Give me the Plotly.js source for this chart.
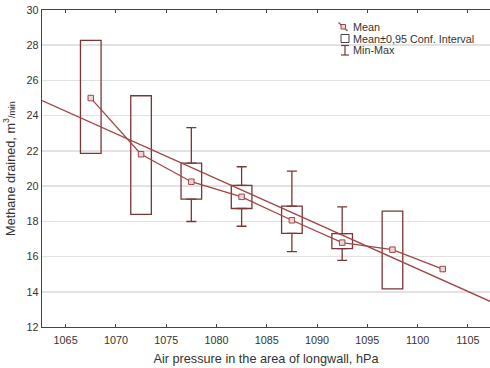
<!DOCTYPE html>
<html>
<head>
<meta charset="utf-8">
<script src="https://cdn.plot.ly/plotly-3.0.1.min.js"></script>
<style>html,body{margin:0;padding:0;background:#fff;}</style>
</head>
<body>
<div id="chart" style="width:490px;height:368px;"></div>
<script>
// Pressure class centres (hPa)
var pressure = [1067.5, 1072.5, 1077.5, 1082.5, 1087.5, 1092.5, 1097.5, 1102.5];
// Mean methane drained (m3/min)
var meanVals = [25.0, 21.81, 20.25, 19.39, 18.06, 16.79, 16.39, 15.29];
// Mean ± 0.95 confidence interval
var ciUpper = [28.28, 25.13, 21.31, 20.04, 18.86, 17.30, 18.58, null];
var ciLower = [21.86, 18.40, 19.26, 18.73, 17.32, 16.45, 14.17, null];
// Min-Max
var minVals = [null, null, 17.99, 17.72, 16.28, 15.78, null, null];
var maxVals = [null, null, 23.32, 21.10, 20.85, 18.82, null, null];
// Regression line (read at the plot edges)
var regX = [1062.65, 1107.2];
var regY = [24.86, 13.46];
// Axis ticks
var xTicks = [1065, 1070, 1075, 1080, 1085, 1090, 1095, 1100, 1105];
var legendText = ['Mean', 'Mean±0,95 Conf. Interval', 'Min-Max'];

var lineCol = '#a04545';
var boxCol = '#7a3636';

var boxX = [], boxBase = [], boxH = [];
pressure.forEach(function (p, i) {
  if (ciUpper[i] !== null) { boxX.push(p); boxBase.push(ciLower[i]); boxH.push(ciUpper[i] - ciLower[i]); }
});
var upX = [], upY = [], upLen = [], loX = [], loY = [], loLen = [];
pressure.forEach(function (p, i) {
  if (maxVals[i] !== null) { upX.push(p); upY.push(ciUpper[i]); upLen.push(maxVals[i] - ciUpper[i]); }
  if (minVals[i] !== null) { loX.push(p); loY.push(ciLower[i]); loLen.push(ciLower[i] - minVals[i]); }
});

var traces = [
  {type: 'bar', x: boxX, y: boxH, base: boxBase, width: 2.05,
   marker: {color: 'rgba(0,0,0,0)', line: {color: boxCol, width: 1.3}}, showlegend: false, hoverinfo: 'skip'},
  {type: 'scatter', mode: 'markers', x: upX, y: upY, marker: {size: 1, opacity: 0},
   error_y: {type: 'data', symmetric: false, array: upLen, arrayminus: upLen.map(function(){return 0;}), width: 5, thickness: 1.3, color: boxCol},
   showlegend: false, hoverinfo: 'skip'},
  {type: 'scatter', mode: 'markers', x: loX, y: loY, marker: {size: 1, opacity: 0},
   error_y: {type: 'data', symmetric: false, array: loLen.map(function(){return 0;}), arrayminus: loLen, width: 5, thickness: 1.3, color: boxCol},
   showlegend: false, hoverinfo: 'skip'},
  {type: 'scatter', mode: 'lines', x: regX, y: regY, line: {color: lineCol, width: 1.3}, showlegend: false},
  {type: 'scatter', mode: 'lines+markers', x: pressure, y: meanVals, line: {color: lineCol, width: 1.3},
   marker: {symbol: 'square', size: 5.5, color: '#ead6d6', line: {color: lineCol, width: 1}}, showlegend: false}
];

var fontFam = '"Liberation Sans", Arial, sans-serif';
var legX0 = 42, legW = 448, legY0 = 10, legH = 317;
function px(x) { return (x - legX0) / legW; }
function py(y) { return 1 - (y - legY0) / legH; }

var shapes = [
  // Mean symbol
  {type: 'line', xref: 'paper', yref: 'paper', x0: px(338.5), x1: px(347.5), y0: py(22.5), y1: py(31), line: {color: lineCol, width: 1.2}},
  {type: 'rect', xref: 'paper', yref: 'paper', x0: px(341), x1: px(345.5), y0: py(24.5), y1: py(29), line: {color: lineCol, width: 1}, fillcolor: '#ead6d6'},
  // CI symbol
  {type: 'rect', xref: 'paper', yref: 'paper', x0: px(341), x1: px(349), y0: py(34.5), y1: py(42.5), line: {color: '#444', width: 1}, fillcolor: 'rgba(0,0,0,0)'},
  // Min-Max symbol
  {type: 'line', xref: 'paper', yref: 'paper', x0: px(345), x1: px(345), y0: py(45.5), y1: py(55), line: {color: boxCol, width: 1.2}},
  {type: 'line', xref: 'paper', yref: 'paper', x0: px(341), x1: px(349), y0: py(45.5), y1: py(45.5), line: {color: boxCol, width: 1.2}},
  {type: 'line', xref: 'paper', yref: 'paper', x0: px(341), x1: px(349), y0: py(55), y1: py(55), line: {color: boxCol, width: 1.2}}
];
var legendY = [27, 38.5, 50];
var annotations = legendText.map(function (t, i) {
  return {xref: 'paper', yref: 'paper', x: px(350.5), y: py(legendY[i]), xanchor: 'left', yanchor: 'middle',
          text: t, showarrow: false, font: {family: fontFam, size: 10.8, color: '#333'}};
});

var layout = {
  width: 490, height: 368,
  margin: {l: 42, r: 0, t: 10, b: 41},
  paper_bgcolor: '#fff', plot_bgcolor: '#fff',
  font: {family: fontFam, color: '#333'},
  showlegend: false,
  barmode: 'overlay',
  xaxis: {
    range: [1062.65, 1107.2], tickvals: xTicks,
    showgrid: false, zeroline: false, showline: true, linecolor: '#444', linewidth: 1.2, mirror: 'ticks',
    ticks: 'inside', ticklen: 3, tickcolor: '#444', tickfont: {size: 10.8, color: '#333'}, ticklabelstandoff: 3,
    title: {text: 'Air pressure in the area of longwall, hPa', font: {size: 12.7, color: '#333'}, standoff: 9}
  },
  yaxis: {
    range: [12, 30], dtick: 2, showgrid: true, gridcolor: '#e2e2e2', gridwidth: 1.5, zeroline: false,
    showline: true, linecolor: '#444', linewidth: 1.2, ticks: '', tickfont: {size: 10.8, color: '#333'},
    title: {text: 'Methane drained, m<sup>3</sup><span style="font-size:9px">/min</span>', font: {size: 12.7, color: '#333'}, standoff: 8}
  },
  shapes: shapes,
  annotations: annotations
};

Plotly.newPlot('chart', traces, layout, {displayModeBar: false, staticPlot: true});
</script>
</body>
</html>
